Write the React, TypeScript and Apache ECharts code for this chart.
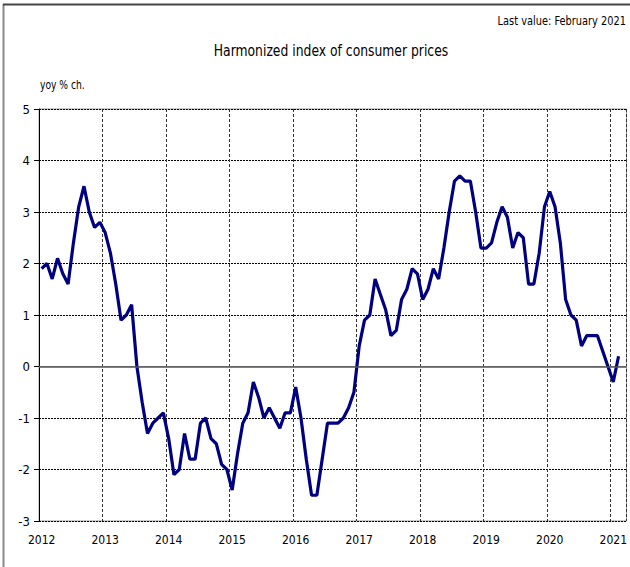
import React, { useEffect, useRef } from "react";
import * as echarts from "echarts";

const startYear = 2012;
const years = [2012, 2013, 2014, 2015, 2016, 2017, 2018, 2019, 2020, 2021];
const yTicks = { min: -3, max: 5, interval: 1 };

// yoy % change, monthly Jan 2012 .. Feb 2021
const v2012 = [1.9, 2.0, 1.7, 2.1, 1.8, 1.6, 2.4, 3.1, 3.5, 3.0, 2.7, 2.8];
const v2013 = [2.6, 2.2, 1.6, 0.9, 1.0, 1.2, 0.0, -0.7, -1.3, -1.1, -1.0, -0.9];
const v2014 = [-1.4, -2.1, -2.0, -1.3, -1.8, -1.8, -1.1, -1.0, -1.4, -1.5, -1.9, -2.0];
const v2015 = [-2.4, -1.7, -1.1, -0.9, -0.3, -0.6, -1.0, -0.8, -1.0, -1.2, -0.9, -0.9];
const v2016 = [-0.4, -1.0, -1.8, -2.5, -2.5, -1.8, -1.1, -1.1, -1.1, -1.0, -0.8, -0.5];
const v2017 = [0.4, 0.9, 1.0, 1.7, 1.4, 1.1, 0.6, 0.7, 1.3, 1.5, 1.9, 1.8];
const v2018 = [1.3, 1.5, 1.9, 1.7, 2.3, 3.0, 3.6, 3.7, 3.6, 3.6, 3.0, 2.3];
const v2019 = [2.3, 2.4, 2.8, 3.1, 2.9, 2.3, 2.6, 2.5, 1.6, 1.6, 2.2, 3.1];
const v2020 = [3.4, 3.1, 2.4, 1.3, 1.0, 0.9, 0.4, 0.6, 0.6, 0.6, 0.3, 0.0];
const v2021 = [-0.3, 0.2];

const values = [...v2012, ...v2013, ...v2014, ...v2015, ...v2016, ...v2017, ...v2018, ...v2019, ...v2020, ...v2021];
const totalMonths = 111; // axis runs to Mar 2021
const categories: string[] = [];
for (let i = 0; i < totalMonths; i++) {
  const y = startYear + Math.floor(i / 12);
  const m = (i % 12) + 1;
  categories.push(`${y}-${m < 10 ? "0" + m : m}`);
}

const FONT = "'DejaVu Sans Condensed', 'DejaVu Sans', sans-serif";

export default function App() {
  const ref = useRef<HTMLDivElement>(null);
  useEffect(() => {
    if (!ref.current) return;
    const chart = echarts.init(ref.current, undefined, { renderer: "svg" });
    chart.setOption({
      animation: false,
      backgroundColor: "#fff",
      textStyle: { fontFamily: FONT },
      grid: {
        left: 39,
        top: 109,
        right: 3,
        bottom: 46,
        show: true,
        borderColor: "#999",
        borderWidth: 1,
      },
      graphic: [
        { type: "line", shape: { x1: 3.5, y1: 4, x2: 3.5, y2: 567 }, style: { stroke: "#8a8a8a", lineWidth: 2 } },
        { type: "line", shape: { x1: 3, y1: 4.5, x2: 630, y2: 4.5 }, style: { stroke: "#444", lineWidth: 2 } },
        {
          type: "text",
          x: 626,
          y: 21,
          scaleX: 0.84,
          style: {
            text: "Last value: February 2021",
            fontSize: 13,
            fontFamily: FONT,
            fill: "#000",
            align: "right",
            verticalAlign: "middle",
          },
        },
        {
          type: "text",
          x: 331,
          y: 51,
          scaleX: 0.86,
          style: {
            text: "Harmonized index of consumer prices",
            fontSize: 16,
            fontFamily: FONT,
            fill: "#000",
            align: "center",
            verticalAlign: "middle",
          },
        },
        {
          type: "text",
          x: 40,
          y: 85,
          scaleX: 0.85,
          style: {
            text: "yoy % ch.",
            fontSize: 12,
            fontFamily: FONT,
            fill: "#000",
            align: "left",
            verticalAlign: "middle",
          },
        },
      ],
      xAxis: {
        type: "category",
        data: categories,
        boundaryGap: true,
        axisLine: { show: true, lineStyle: { color: "#999", width: 1 } },
        axisTick: { show: false },
        axisLabel: {
          interval: (index: number) => index % 12 === 0,
          formatter: (val: string) => {
            const y = parseInt(val.slice(0, 4), 10);
            return years.includes(y) ? String(y) : "";
          },
          fontSize: 12,
          color: "#000",
          margin: 13,
          fontFamily: FONT,
        },
        splitLine: {
          show: true,
          interval: (index: number) => index % 12 === 0 && index > 0,
          lineStyle: { color: "#333", type: [3, 2], width: 1 },
        },
      },
      yAxis: {
        type: "value",
        min: yTicks.min,
        max: yTicks.max,
        interval: yTicks.interval,
        axisLine: { show: true, onZero: false, lineStyle: { color: "#000", width: 1 } },
        axisTick: { show: true, length: 5, lineStyle: { color: "#000" } },
        axisLabel: { fontSize: 13, color: "#000", margin: 9, fontFamily: FONT },
        splitLine: {
          show: true,
          lineStyle: { color: "#000", type: [2, 1], width: 1 },
        },
      },
      series: [
        {
          type: "line",
          data: values,
          showSymbol: false,
          symbol: "none",
          lineStyle: { color: "#000080", width: 3.2 },
          markLine: {
            silent: true,
            symbol: "none",
            label: { show: false },
            lineStyle: { color: "#555", type: "solid", width: 1.5 },
            data: [{ yAxis: 0 }],
          },
          z: 3,
        },
      ],
    });
    return () => chart.dispose();
  }, []);
  return (
    <div
      ref={ref}
      style={{ position: "fixed", left: 0, top: 0, width: 630, height: 567 }}
    />
  );
}
